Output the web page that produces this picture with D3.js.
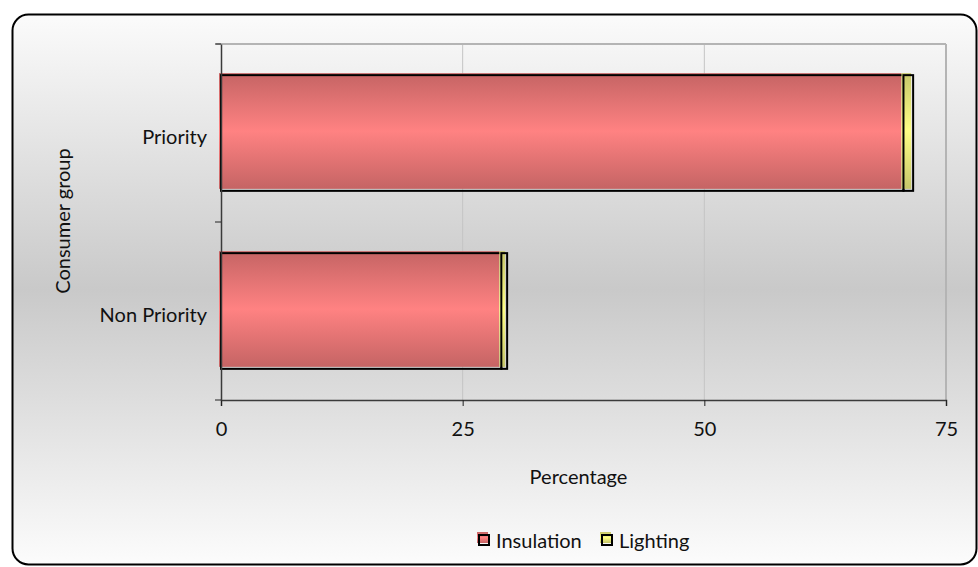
<!DOCTYPE html>
<html>
<head>
<meta charset="utf-8">
<script src="https://cdn.jsdelivr.net/npm/d3@7"></script>
<style>
  body { margin: 0; background: #fff; }
  text { font-family: Lato, "Open Sans", sans-serif; fill: #111; }
</style>
</head>
<body>
<div id="chart"></div>
<script>
// data
var groups = ["Priority", "Non Priority"];
var seriesNames = ["Insulation", "Lighting"];
var insulation = [70.6, 29.0];
var lighting = [1.0, 0.6];
var xTicks = [0, 25, 50, 75];

var svgWidth = 978;
var svgHeight = 567;
var fontSize = 20;

var margin = { top: 44, right: 32, bottom: 167, left: 221 };
var width = 946 - margin.left;
var height = 400 - margin.top;

var svg = d3.select("#chart")
  .append("svg")
  .attr("width", svgWidth)
  .attr("height", svgHeight);

var defs = svg.append("defs");

var bg = defs.append("linearGradient")
  .attr("id", "bgGrad")
  .attr("x1", 0).attr("y1", 0).attr("x2", 0).attr("y2", 1);
bg.append("stop").attr("offset", "0%").attr("stop-color", "#fbfbfb");
bg.append("stop").attr("offset", "50%").attr("stop-color", "#c9c9c9");
bg.append("stop").attr("offset", "100%").attr("stop-color", "#fcfcfc");

function barGrad(id, edge, mid) {
  var g = defs.append("linearGradient")
    .attr("id", id)
    .attr("x1", 0).attr("y1", 0).attr("x2", 0).attr("y2", 1);
  g.append("stop").attr("offset", "0%").attr("stop-color", edge);
  g.append("stop").attr("offset", "50%").attr("stop-color", mid);
  g.append("stop").attr("offset", "100%").attr("stop-color", edge);
}
barGrad("redGrad", "#c56464", "#ff8282");
barGrad("yelGrad", "#c6c66a", "#ffff84");
var fills = ["url(#redGrad)", "url(#yelGrad)"];

// chart area background with rounded border
svg.append("rect")
  .attr("x", 12.5)
  .attr("y", 14.5)
  .attr("width", 964)
  .attr("height", 550)
  .attr("rx", 16)
  .attr("fill", "url(#bgGrad)")
  .attr("stroke", "#000")
  .attr("stroke-width", 2);

var chartGroup = svg.append("g")
  .attr("transform", `translate(${margin.left}, ${margin.top})`);

var xScale = d3.scaleLinear()
  .domain([0, 75])
  .range([0, width]);

var yScale = d3.scaleBand()
  .domain(groups)
  .range([0, height])
  .paddingInner(0.35)
  .paddingOuter(0.175);

// gridlines
chartGroup.selectAll(".grid")
  .data(xTicks.slice(1))
  .enter()
  .append("line")
  .attr("x1", d => xScale(d))
  .attr("x2", d => xScale(d))
  .attr("y1", 0)
  .attr("y2", height)
  .attr("stroke", d => d === 75 ? "#b4b4b4" : "#c4c4c4")
  .attr("stroke-width", d => d === 75 ? 2 : 1);

chartGroup.append("line")
  .attr("x1", -5)
  .attr("x2", width)
  .attr("y1", 0)
  .attr("y2", 0)
  .attr("stroke", "#b4b4b4")
  .attr("stroke-width", 2);

// stacked bars
var stackData = groups.map(function(g, i) {
  return { group: g, Insulation: insulation[i], Lighting: lighting[i] };
});
var stacked = d3.stack().keys(seriesNames)(stackData);

stacked.forEach(function(layer, si) {
  var layerG = chartGroup.append("g");
  layerG.selectAll(".fill")
    .data(layer)
    .enter()
    .append("rect")
    .attr("x", d => xScale(d[0]) - 2)
    .attr("y", d => yScale(d.data.group) - 2)
    .attr("width", d => xScale(d[1]) - xScale(d[0]))
    .attr("height", yScale.bandwidth())
    .attr("fill", fills[si]);
  layerG.selectAll(".edge")
    .data(layer)
    .enter()
    .append("rect")
    .attr("x", d => xScale(d[0]))
    .attr("y", d => yScale(d.data.group))
    .attr("width", d => xScale(d[1]) - xScale(d[0]))
    .attr("height", yScale.bandwidth())
    .attr("fill", "none")
    .attr("stroke", "#000")
    .attr("stroke-width", 2);
});

// axes
var xAxis = chartGroup.append("g")
  .attr("transform", `translate(0, ${height})`)
  .call(d3.axisBottom(xScale).tickValues(xTicks).tickSizeOuter(0).tickSize(6).tickPadding(16));

var yAxis = chartGroup.append("g")
  .call(d3.axisLeft(yScale).tickSize(0).tickPadding(14));

[xAxis, yAxis].forEach(function(ax) {
  ax.select(".domain").attr("stroke", "#3a3a3a").attr("stroke-width", 1.5);
  ax.selectAll("text").attr("font-size", fontSize).attr("font-family", "Lato, sans-serif").attr("fill", "#111");
  ax.selectAll(".tick line").attr("stroke", "#222");
});
yAxis.selectAll("text").attr("dy", "0.55em");

// y axis boundary ticks
chartGroup.selectAll(".ybound")
  .data([0, height / 2, height])
  .enter()
  .append("line")
  .attr("x1", -6)
  .attr("x2", 0)
  .attr("y1", d => d)
  .attr("y2", d => d)
  .attr("stroke", "#222");

// axis titles
chartGroup.append("text")
  .attr("x", width / 2 - 5)
  .attr("y", height + 84)
  .attr("text-anchor", "middle")
  .attr("font-size", fontSize)
  .text("Percentage");

chartGroup.append("text")
  .attr("transform", "rotate(-90)")
  .attr("x", -(height / 2) + 1)
  .attr("y", -151)
  .attr("text-anchor", "middle")
  .attr("font-size", fontSize)
  .text("Consumer group");

// legend
var legend = svg.append("g")
  .attr("transform", "translate(478, 541)");

var legendX = [0, 123];
seriesNames.forEach(function(name, i) {
  var item = legend.append("g").attr("transform", `translate(${legendX[i]}, 0)`);
  item.append("rect")
    .attr("x", -1).attr("y", -9)
    .attr("width", 11).attr("height", 11)
    .attr("fill", fills[i]);
  item.append("rect")
    .attr("x", 1).attr("y", -6)
    .attr("width", 10).attr("height", 10)
    .attr("fill", "none")
    .attr("stroke", "#000")
    .attr("stroke-width", 2);
  item.append("text")
    .attr("x", 18)
    .attr("y", 7)
    .attr("font-size", fontSize)
    .text(name);
});
</script>
</body>
</html>
